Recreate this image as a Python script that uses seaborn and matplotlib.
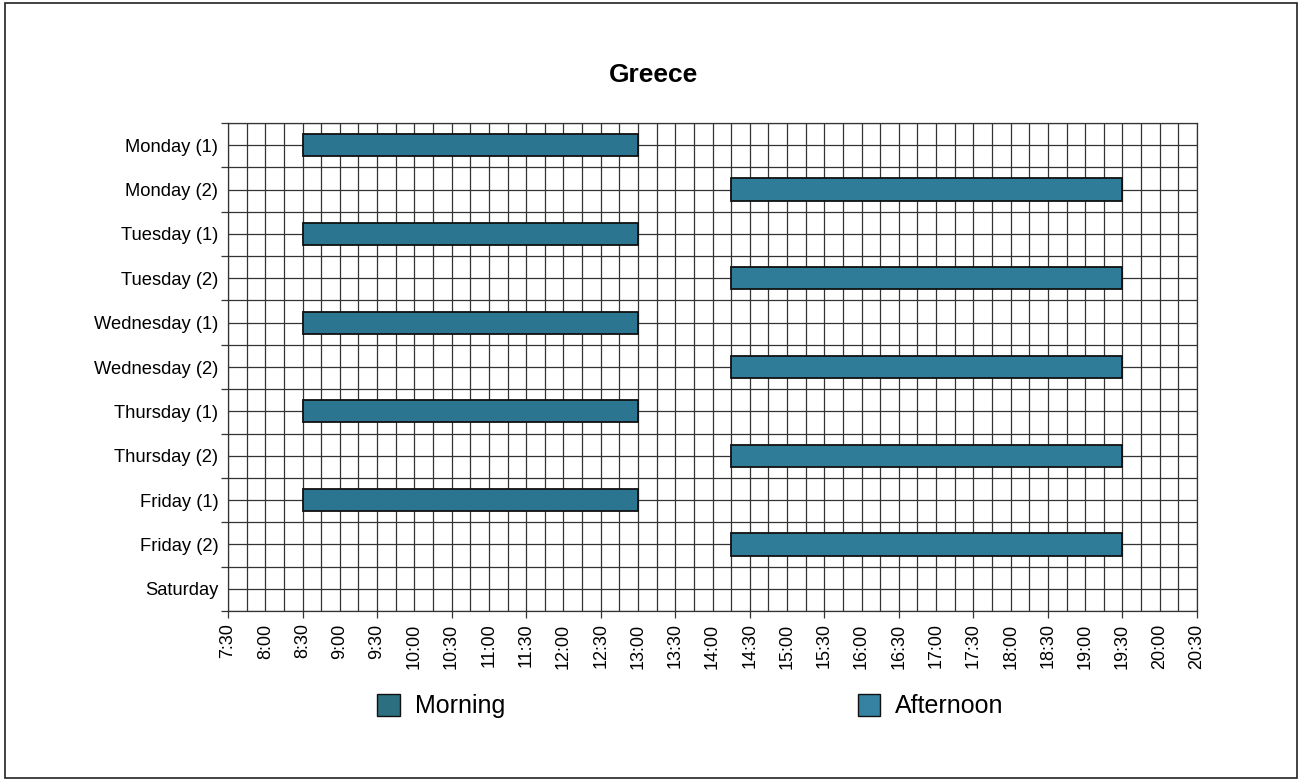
import numpy as np
import pandas as pd
import matplotlib
matplotlib.use("Agg")
import matplotlib.pyplot as plt
import seaborn as sns
from matplotlib.patches import Rectangle, Patch

# rows of the timetable, top to bottom
days = ["Monday (1)", "Monday (2)", "Tuesday (1)", "Tuesday (2)",
        "Wednesday (1)", "Wednesday (2)", "Thursday (1)", "Thursday (2)",
        "Friday (1)", "Friday (2)", "Saturday"]

# sessions (hours as decimals)
morning_days = ["Monday (1)", "Tuesday (1)", "Wednesday (1)", "Thursday (1)", "Friday (1)"]
morning_start = [8.5, 8.5, 8.5, 8.5, 8.5]
morning_end = [13.0, 13.0, 13.0, 13.0, 13.0]

afternoon_days = ["Monday (2)", "Tuesday (2)", "Wednesday (2)", "Thursday (2)", "Friday (2)"]
afternoon_start = [14.25, 14.25, 14.25, 14.25, 14.25]
afternoon_end = [19.5, 19.5, 19.5, 19.5, 19.5]

tick_hours = np.arange(7.5, 20.51, 0.5)
tick_labels = [f"{int(h)}:{'30' if h % 1 else '00'}" for h in tick_hours]

session_colors = {"Morning": "#2c7590", "Afternoon": "#2f7c99"}

df = pd.concat([
    pd.DataFrame({"day": morning_days, "start": morning_start, "end": morning_end, "session": "Morning"}),
    pd.DataFrame({"day": afternoon_days, "start": afternoon_start, "end": afternoon_end, "session": "Afternoon"}),
])
df["pos"] = df["day"].map({d: i for i, d in enumerate(days)})

sns.set_theme(style="white")
plt.rcParams["font.family"] = ["Liberation Sans", "DejaVu Sans"]
plt.rcParams["text.color"] = "black"
plt.rcParams["xtick.color"] = "black"
plt.rcParams["ytick.color"] = "black"

fig = plt.figure(figsize=(13, 7.8), dpi=100)
fig.patch.set_facecolor("white")
ax = fig.add_axes([228 / 1300, 1 - 611 / 780, (1197 - 228) / 1300, (611 - 123) / 780])

# background grid: quarter-hour columns, half-row lines
grid_kw = dict(color="#333333", linewidth=0.9, zorder=1)
for x in np.arange(7.5, 20.51, 0.25):
    ax.axvline(x, **grid_kw)
for y in np.arange(-0.5, len(days) - 0.49, 0.5):
    ax.axhline(y, **grid_kw)

for session, grp in df.groupby("session", sort=False):
    ax.barh(grp["pos"], grp["end"] - grp["start"], left=grp["start"], height=0.5,
            color=session_colors[session], edgecolor="#111111", linewidth=1.3, zorder=3)

ax.set_xlim(7.5, 20.5)
ax.set_ylim(len(days) - 0.5, -0.5)

ax.set_yticks(range(len(days)))
ax.set_yticklabels(days, fontsize=13.2)
ax.set_yticks(np.arange(-0.5, len(days)), minor=True)
ax.tick_params(axis="y", which="major", length=0, pad=7)
ax.tick_params(axis="y", which="minor", length=5, width=0.9, color="#333333", left=True)

ax.set_xticks(tick_hours)
ax.set_xticklabels(tick_labels, rotation=90, fontsize=13)
ax.tick_params(axis="x", which="major", length=5, width=0.9, color="#333333", bottom=True, pad=4)
for i, t in enumerate(ax.xaxis.get_major_ticks()):
    if i % 2:
        t.tick1line.set_markersize(0)

for s in ax.spines.values():
    s.set_color("#333333")
    s.set_linewidth(0.9)

fig.text(654 / 1300, 1 - 75 / 780, "Greece", ha="center", va="center",
         fontsize=19, fontweight="bold")

# legend entries
handles_m = [Patch(facecolor="#2b6f80", edgecolor="#111111", label="Morning")]
handles_a = [Patch(facecolor="#3582a2", edgecolor="#111111", label="Afternoon")]
leg_kw = dict(frameon=False, fontsize=18, handlelength=0.9, handleheight=1.0, handletextpad=0.6,
              loc="center left")
fig.legend(handles=handles_m, bbox_to_anchor=(355 / 1300, 1 - 706 / 780), **leg_kw)
fig.legend(handles=handles_a, bbox_to_anchor=(835 / 1300, 1 - 706 / 780), **leg_kw)

fig.patches.append(Rectangle((5 / 1300, 2 / 780), 1292 / 1300, 775 / 780, transform=fig.transFigure,
                             fill=False, edgecolor="#222222", linewidth=1.2))

fig.savefig("out.png", dpi=100)
